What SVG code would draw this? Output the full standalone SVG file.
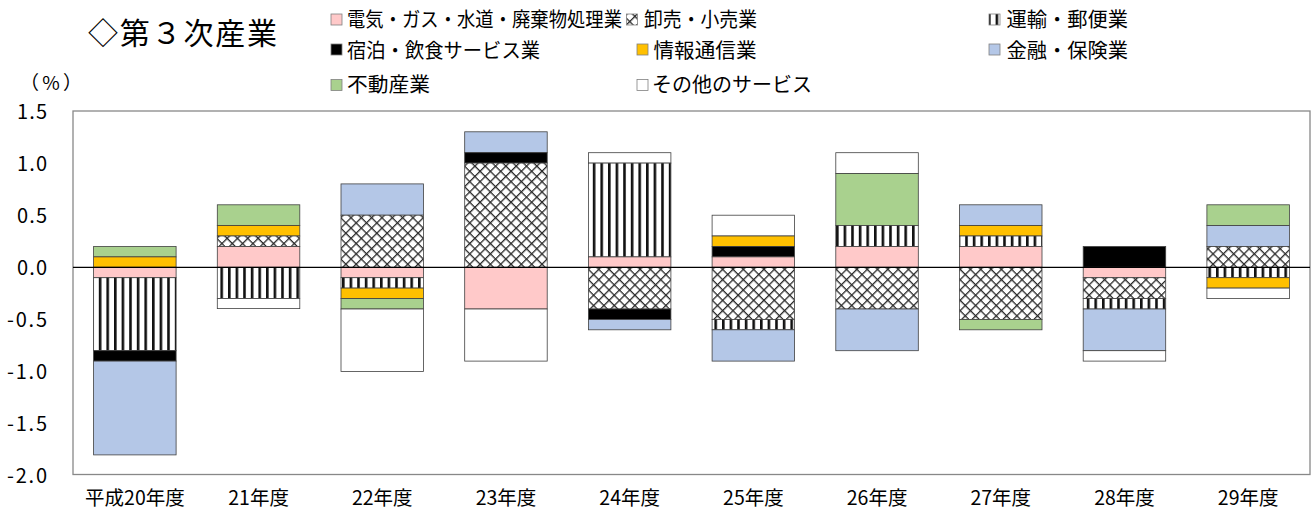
<svg xmlns="http://www.w3.org/2000/svg" width="1316" height="511" viewBox="0 0 1316 511">
<style>
text{font-family:"Noto Sans CJK JP","Noto Sans",sans-serif;fill:#000}
.t{font-size:30px}
.lg{font-size:20px}
.ax{font-size:19px}
.xl{font-size:19.5px;text-anchor:middle}
.yl{font-size:20px;text-anchor:end}
.seg rect{stroke:#404040;stroke-width:0.8}
.pk{fill:#FFC9C9}
.ye{fill:#FFC000}
.bu{fill:#B4C7E7}
.gr{fill:#A9D18E}
.bk{fill:#000}
.wh{fill:#fff}
.cr{fill:url(#cross)}
.st{fill:url(#vstripe)}
.key{stroke:#808080;stroke-width:0.8}
</style>
<defs>
<pattern id="cross" patternUnits="userSpaceOnUse" width="7.3" height="7.3" patternTransform="rotate(45)">
<rect width="7.3" height="7.3" fill="#fff"/>
<rect width="7.3" height="1.3" fill="#2a2a2a"/>
<rect width="1.3" height="7.3" fill="#2a2a2a"/>
</pattern>
<pattern id="vstripe" patternUnits="userSpaceOnUse" width="7.6" height="10">
<rect width="7.6" height="10" fill="#fff"/>
<rect x="0" width="2.6" height="10" fill="#111"/>
</pattern>
</defs>
<rect width="1316" height="511" fill="#fff"/>

<g id="title"><text class="t" x="88" y="44" textLength="189" lengthAdjust="spacing">◇第３次産業</text></g>

<g id="legend">
<g id="lg-denki"><rect class="key pk" x="331" y="14" width="11" height="11"/><text class="lg" x="347" y="26.5" textLength="275" lengthAdjust="spacingAndGlyphs">電気・ガス・水道・廃棄物処理業</text></g>
<g id="lg-oroshi"><rect class="key cr" x="626.5" y="14" width="11" height="11"/><text class="lg" x="644" y="26.5" textLength="113" lengthAdjust="spacingAndGlyphs">卸売・小売業</text></g>
<g id="lg-unyu"><rect class="key st" x="989" y="14" width="11" height="11"/><text class="lg" x="1006.5" y="26.5" textLength="121.5" lengthAdjust="spacingAndGlyphs">運輸・郵便業</text></g>
<g id="lg-shukuhaku"><rect class="key bk" x="331" y="44" width="11" height="11"/><text class="lg" x="347" y="58" textLength="193" lengthAdjust="spacingAndGlyphs">宿泊・飲食サービス業</text></g>
<g id="lg-joho"><rect class="key ye" x="637" y="44" width="11" height="11"/><text class="lg" x="653.5" y="58" textLength="103" lengthAdjust="spacingAndGlyphs">情報通信業</text></g>
<g id="lg-kinyu"><rect class="key bu" x="989" y="44" width="11" height="11"/><text class="lg" x="1006.5" y="58" textLength="121.5" lengthAdjust="spacingAndGlyphs">金融・保険業</text></g>
<g id="lg-fudosan"><rect class="key gr" x="331" y="79.5" width="11" height="11"/><text class="lg" x="347" y="92" textLength="83" lengthAdjust="spacingAndGlyphs">不動産業</text></g>
<g id="lg-sonota"><rect class="key wh" x="637" y="79.5" width="11" height="11"/><text class="lg" x="652" y="92" textLength="160" lengthAdjust="spacingAndGlyphs">その他のサービス</text></g>
</g>

<g id="axes">
<text class="ax" x="20" y="90" textLength="62" lengthAdjust="spacing">（%）</text>
<rect x="73" y="111" width="1237" height="363.5" fill="none" stroke="#888" stroke-width="1.3"/>
<text class="yl" x="47" y="119" textLength="30" lengthAdjust="spacing">1.5</text>
<text class="yl" x="47" y="171" textLength="30" lengthAdjust="spacing">1.0</text>
<text class="yl" x="47" y="223" textLength="30" lengthAdjust="spacing">0.5</text>
<text class="yl" x="47" y="275" textLength="30" lengthAdjust="spacing">0.0</text>
<text class="yl" x="47" y="327" textLength="40" lengthAdjust="spacing">-0.5</text>
<text class="yl" x="47" y="379" textLength="40" lengthAdjust="spacing">-1.0</text>
<text class="yl" x="47" y="431" textLength="40" lengthAdjust="spacing">-1.5</text>
<text class="yl" x="47" y="483" textLength="40" lengthAdjust="spacing">-2.0</text>
<text class="xl" x="134.9" y="505">平成20年度</text>
<text class="xl" x="258.6" y="505">21年度</text>
<text class="xl" x="382.3" y="505">22年度</text>
<text class="xl" x="506" y="505">23年度</text>
<text class="xl" x="629.7" y="505">24年度</text>
<text class="xl" x="753.4" y="505">25年度</text>
<text class="xl" x="877.1" y="505">26年度</text>
<text class="xl" x="1000.8" y="505">27年度</text>
<text class="xl" x="1124.5" y="505">28年度</text>
<text class="xl" x="1248.2" y="505">29年度</text>
</g>

<g id="bar-h20" class="seg">
<rect class="gr" x="93.6" y="246.5" width="82.5" height="10.4"/>
<rect class="ye" x="93.6" y="256.9" width="82.5" height="10.4"/>
<rect class="pk" x="93.6" y="267.3" width="82.5" height="10.4"/>
<rect class="st" x="93.6" y="277.7" width="82.5" height="73"/>
<rect class="bk" x="93.6" y="350.7" width="82.5" height="10.4"/>
<rect class="bu" x="93.6" y="361.1" width="82.5" height="93.8"/>
</g>
<g id="bar-h21" class="seg">
<rect class="gr" x="217.3" y="204.8" width="82.5" height="20.8"/>
<rect class="ye" x="217.3" y="225.6" width="82.5" height="10.4"/>
<rect class="cr" x="217.3" y="236" width="82.5" height="10.5"/>
<rect class="pk" x="217.3" y="246.5" width="82.5" height="20.8"/>
<rect class="st" x="217.3" y="267.3" width="82.5" height="31.3"/>
<rect class="wh" x="217.3" y="298.6" width="82.5" height="10"/>
</g>
<g id="bar-h22" class="seg">
<rect class="bu" x="341" y="183.9" width="82.5" height="31.3"/>
<rect class="cr" x="341" y="215.2" width="82.5" height="52.1"/>
<rect class="pk" x="341" y="267.3" width="82.5" height="10.4"/>
<rect class="st" x="341" y="277.7" width="82.5" height="10.4"/>
<rect class="ye" x="341" y="288.1" width="82.5" height="10.5"/>
<rect class="gr" x="341" y="298.6" width="82.5" height="10.4"/>
<rect class="wh" x="341" y="309" width="82.5" height="62.5"/>
</g>
<g id="bar-h23" class="seg">
<rect class="bu" x="464.7" y="131.8" width="82.5" height="20.9"/>
<rect class="bk" x="464.7" y="152.7" width="82.5" height="10.4"/>
<rect class="cr" x="464.7" y="163.1" width="82.5" height="104.2"/>
<rect class="pk" x="464.7" y="267.3" width="82.5" height="41.7"/>
<rect class="wh" x="464.7" y="309" width="82.5" height="52.1"/>
</g>
<g id="bar-h24" class="seg">
<rect class="wh" x="588.4" y="152.7" width="82.5" height="10.4"/>
<rect class="st" x="588.4" y="163.1" width="82.5" height="93.8"/>
<rect class="pk" x="588.4" y="256.9" width="82.5" height="10.4"/>
<rect class="cr" x="588.4" y="267.3" width="82.5" height="41.7"/>
<rect class="bk" x="588.4" y="309" width="82.5" height="10.4"/>
<rect class="bu" x="588.4" y="319.4" width="82.5" height="10.4"/>
</g>
<g id="bar-h25" class="seg">
<rect class="wh" x="712.1" y="215.2" width="82.5" height="20.8"/>
<rect class="ye" x="712.1" y="236" width="82.5" height="10.5"/>
<rect class="bk" x="712.1" y="246.5" width="82.5" height="10.4"/>
<rect class="pk" x="712.1" y="256.9" width="82.5" height="10.4"/>
<rect class="cr" x="712.1" y="267.3" width="82.5" height="52.1"/>
<rect class="st" x="712.1" y="319.4" width="82.5" height="10.4"/>
<rect class="bu" x="712.1" y="329.8" width="82.5" height="31.3"/>
</g>
<g id="bar-h26" class="seg">
<rect class="wh" x="835.8" y="152.7" width="82.5" height="20.8"/>
<rect class="gr" x="835.8" y="173.5" width="82.5" height="52.1"/>
<rect class="st" x="835.8" y="225.6" width="82.5" height="20.9"/>
<rect class="pk" x="835.8" y="246.5" width="82.5" height="20.8"/>
<rect class="cr" x="835.8" y="267.3" width="82.5" height="41.7"/>
<rect class="bu" x="835.8" y="309" width="82.5" height="41.7"/>
</g>
<g id="bar-h27" class="seg">
<rect class="bu" x="959.5" y="204.8" width="82.5" height="20.8"/>
<rect class="ye" x="959.5" y="225.6" width="82.5" height="10.4"/>
<rect class="st" x="959.5" y="236" width="82.5" height="10.5"/>
<rect class="pk" x="959.5" y="246.5" width="82.5" height="20.8"/>
<rect class="cr" x="959.5" y="267.3" width="82.5" height="52.1"/>
<rect class="gr" x="959.5" y="319.4" width="82.5" height="10.4"/>
</g>
<g id="bar-h28" class="seg">
<rect class="bk" x="1083.2" y="246.5" width="82.5" height="20.8"/>
<rect class="pk" x="1083.2" y="267.3" width="82.5" height="10.4"/>
<rect class="cr" x="1083.2" y="277.7" width="82.5" height="20.9"/>
<rect class="st" x="1083.2" y="298.6" width="82.5" height="10.4"/>
<rect class="bu" x="1083.2" y="309" width="82.5" height="41.7"/>
<rect class="wh" x="1083.2" y="350.7" width="82.5" height="10.4"/>
</g>
<g id="bar-h29" class="seg">
<rect class="gr" x="1206.9" y="204.8" width="82.5" height="20.8"/>
<rect class="bu" x="1206.9" y="225.6" width="82.5" height="20.9"/>
<rect class="cr" x="1206.9" y="246.5" width="82.5" height="20.8"/>
<rect class="st" x="1206.9" y="267.3" width="82.5" height="10.4"/>
<rect class="ye" x="1206.9" y="277.7" width="82.5" height="10.4"/>
<rect class="wh" x="1206.9" y="288.1" width="82.5" height="10.5"/>
</g>

<g id="zero-line"><line x1="73" y1="267.3" x2="1310" y2="267.3" stroke="#000" stroke-width="1.3"/></g>
</svg>
